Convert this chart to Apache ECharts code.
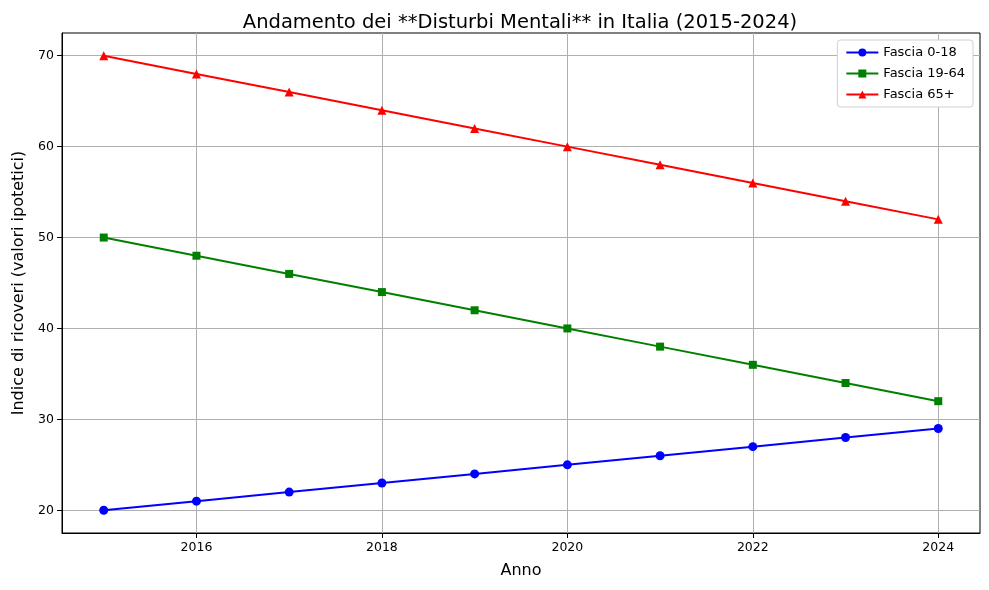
<!DOCTYPE html>
<html><head><meta charset="utf-8">
<script src="https://cdn.jsdelivr.net/npm/echarts@6/dist/echarts.min.js"></script>
<style>html,body{margin:0;padding:0;background:#fff}#c{width:989px;height:590px}</style>
</head><body><div id="c"></div>
<script>
const years = [2015,2016,2017,2018,2019,2020,2021,2022,2023,2024];
const fascia0_18 = [20,21,22,23,24,25,26,27,28,29];
const fascia19_64 = [50,48,46,44,42,40,38,36,34,32];
const fascia65 = [70,68,66,64,62,60,58,56,54,52];
const xTicks = [2016,2018,2020,2022,2024];
const yTicks = [20,30,40,50,60,70];
const FONT = 'DejaVu Sans';
const chart = echarts.init(document.getElementById('c'));
function mk(name, data, color, symbol, size){
  return {name, type:'line', data: years.map((y,i)=>[y,data[i]]), symbol, symbolSize:size,
    itemStyle:{color}, lineStyle:{color, width:2}, showSymbol:true, animation:false};
}
chart.setOption({
  animation:false,
  backgroundColor:'#fff',
  title:{text:'Andamento dei **Disturbi Mentali** in Italia (2015-2024)', left:515, textAlign:'center', top:8,
    textStyle:{fontFamily:FONT, fontSize:19.5, fontWeight:'normal', color:'#000'}},
  grid:{left:62, right:9, top:33, bottom:57, show:true, borderColor:'#000', borderWidth:1, backgroundColor:'transparent'},
  legend:{right:16, top:40, orient:'vertical', itemWidth:32, itemHeight:10, itemGap:8,
    borderColor:'#d0d0d0', borderWidth:1, borderRadius:3, padding:[6,8,6,8], backgroundColor:'#fff',
    textStyle:{fontFamily:FONT, fontSize:13, color:'#000'},
    data:['Fascia 0-18','Fascia 19-64','Fascia 65+']},
  xAxis:{type:'value', min:2014.55, max:2024.45, name:'Anno', nameLocation:'middle', nameGap:30,
    nameTextStyle:{fontFamily:FONT, fontSize:16, color:'#000'},
    axisLine:{show:true, lineStyle:{color:'#000'}},
    axisTick:{show:true, length:5, customValues:xTicks, lineStyle:{color:'#000'}},
    axisLabel:{customValues:xTicks, formatter:v=>String(v), fontFamily:FONT, fontSize:12.5, color:'#000', margin:8},
    splitLine:{show:true, lineStyle:{color:'#b0b0b0', width:1}}},
  yAxis:{type:'value', min:17.5, max:72.5, name:'Indice di ricoveri (valori ipotetici)', nameLocation:'middle', nameGap:35,
    nameTextStyle:{fontFamily:FONT, fontSize:16, color:'#000'},
    axisLine:{show:true, lineStyle:{color:'#000'}},
    axisTick:{show:true, length:5, customValues:yTicks, lineStyle:{color:'#000'}},
    axisLabel:{customValues:yTicks, formatter:v=>String(v), fontFamily:FONT, fontSize:12.5, color:'#000', margin:8},
    splitLine:{show:true, lineStyle:{color:'#b0b0b0', width:1}}},
  series:[
    mk('Fascia 0-18', fascia0_18, '#0000ff', 'circle', 9),
    mk('Fascia 19-64', fascia19_64, '#008000', 'rect', 8),
    mk('Fascia 65+', fascia65, '#ff0000', 'triangle', 9)
  ]
});
</script></body></html>
